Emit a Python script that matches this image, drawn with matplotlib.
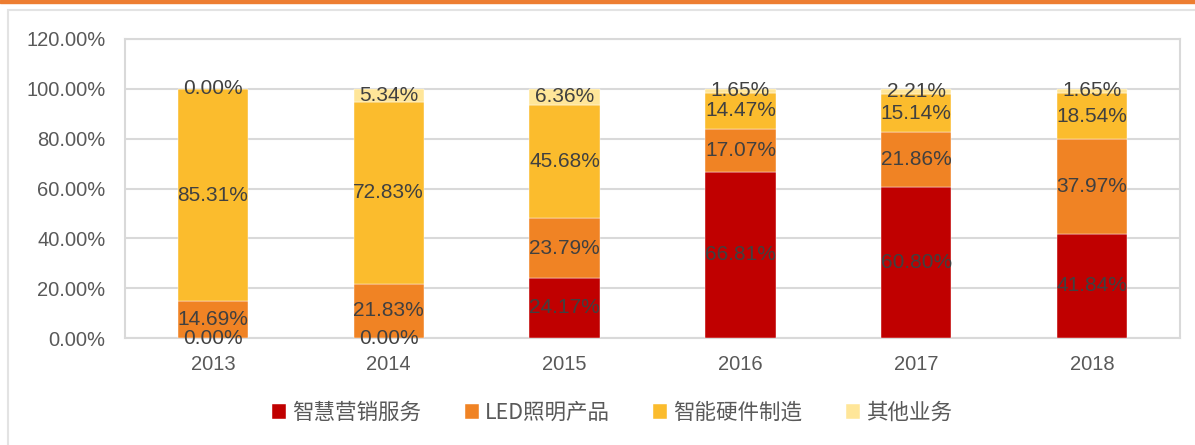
import matplotlib
matplotlib.use("Agg")
import matplotlib.pyplot as plt
from matplotlib.patches import Rectangle
import numpy as np

plt.rcParams['font.family'] = ['Noto Sans CJK SC', 'DejaVu Sans']

years = ["2013", "2014", "2015", "2016", "2017", "2018"]
series_names = ["智慧营销服务", "LED照明产品", "智能硬件制造", "其他业务"]
smart_marketing = [0.00, 0.00, 24.17, 66.81, 60.80, 41.84]
led_lighting = [14.69, 21.83, 23.79, 17.07, 21.86, 37.97]
smart_hardware = [85.31, 72.83, 45.68, 14.47, 15.14, 18.54]
other_business = [0.00, 5.34, 6.36, 1.65, 2.21, 1.65]
yticks = [0, 20, 40, 60, 80, 100, 120]

colors = ["#C00000", "#F08324", "#FBBC2D", "#FFE699"]
series = [smart_marketing, led_lighting, smart_hardware, other_business]
num_font = ['Liberation Sans Narrow', 'Liberation Sans', 'DejaVu Sans']

W, H = 1195, 445
fig = plt.figure(figsize=(W / 100, H / 100), dpi=100)

# outer decorations
fig.patches.append(Rectangle((0, 1 - 3 / H), 1, 3 / H, transform=fig.transFigure,
                             color="#ED7D31", zorder=0))
fig.patches.append(Rectangle((8 / W, -0.05), 1.2, 1 - 10 / H + 0.05, transform=fig.transFigure,
                             fill=False, edgecolor="#E3E3E3", lw=1.5, zorder=0))

ax = fig.add_axes([125 / W, (H - 338) / H, 1055 / W, (338 - 39) / H])
x = np.arange(len(years))
bottom = np.zeros(len(years))
for name, vals, c in zip(series_names, series, colors):
    vals = np.array(vals)
    ax.bar(x, vals, 0.4, bottom=bottom, color=c, label=name, zorder=3,
           edgecolor="white", linewidth=0.3)
    for xi, b, v in zip(x, bottom, vals):
        ax.text(xi, b + v / 2, f"{v:.2f}%", ha="center", va="center",
                fontsize=15, color="#404040", zorder=5, family=num_font)
    bottom = bottom + vals

ax.set_xlim(-0.5, len(years) - 0.5)
ax.set_ylim(0, 120)
ax.set_yticks(yticks)
ax.set_yticklabels([f"{t:.2f}%" for t in yticks], family=num_font)
ax.set_xticks(x)
ax.set_xticklabels(years, family=num_font)
ax.tick_params(axis='both', length=0, labelsize=14.5, labelcolor="#595959")
ax.tick_params(axis='y', pad=14)
ax.tick_params(axis='x', pad=12)
ax.yaxis.grid(True, color="#D9D9D9", lw=1.5, zorder=0)
ax.set_axisbelow(True)
for s in ax.spines.values():
    s.set_color("#D9D9D9")
    s.set_linewidth(1.5)

fig.legend(loc="center", bbox_to_anchor=(612 / W, 1 - 413 / H), ncol=4,
           frameon=False, fontsize=15.5, handlelength=0.65, handleheight=0.65,
           handletextpad=0.3, columnspacing=2.0, labelcolor="#595959")

fig.savefig("out.png", dpi=100)
